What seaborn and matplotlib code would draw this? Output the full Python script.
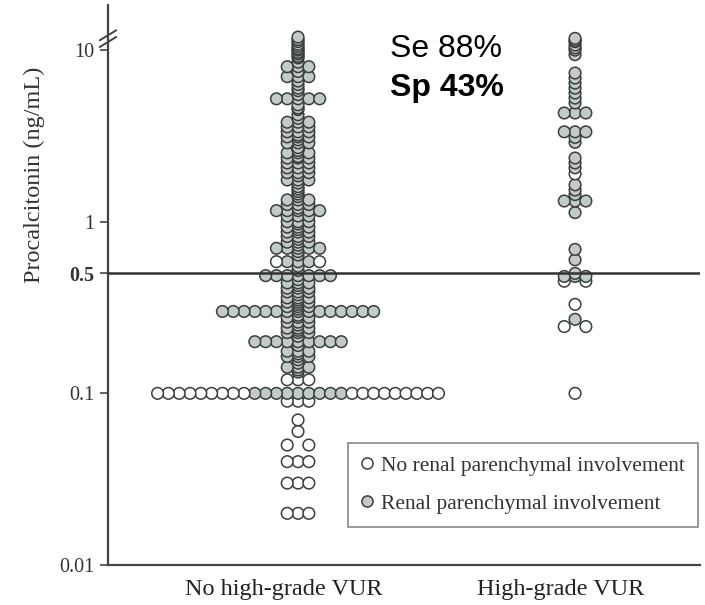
import numpy as np
import pandas as pd
import matplotlib.pyplot as plt
import matplotlib.transforms as mtransforms
import seaborn as sns
from matplotlib.lines import Line2D

sns.set_theme(style="ticks")
plt.rcParams['font.family'] = ['Liberation Serif', 'DejaVu Serif']

# procalcitonin values (ng/mL), with number of patients at each value
# gray = renal parenchymal involvement, white = none
noHighValues = [11.9, 11.5, 11.2, 10.8, 10.5, 10.2, 10.0, 9.7, 9.5, 9.2,
                9.0, 8.5, 8.0, 7.5, 7.0, 6.6, 6.3, 6.0, 5.8, 5.5,
                5.2, 4.8, 4.6, 4.5, 4.2, 4.0, 3.8, 3.57, 3.34, 3.2,
                3.12, 3.0, 2.88, 2.7, 2.6, 2.52, 2.4, 2.35, 2.2, 2.06,
                1.93, 1.85, 1.75, 1.68, 1.6, 1.55, 1.5, 1.45, 1.4, 1.34,
                1.26, 1.2, 1.16, 1.08, 1.0, 0.97, 0.93, 0.9, 0.87, 0.82,
                0.79, 0.76, 0.73, 0.70, 0.67, 0.64, 0.585, 0.55, 0.52, 0.485,
                0.46, 0.44, 0.425, 0.41, 0.39, 0.375, 0.36, 0.35, 0.34, 0.33,
                0.32, 0.31, 0.30, 0.285, 0.277, 0.26, 0.25, 0.24, 0.233, 0.226,
                0.215, 0.20, 0.19, 0.176, 0.17, 0.164, 0.157, 0.15, 0.142, 0.137,
                0.133, 0.12, 0.10, 0.09, 0.07, 0.06, 0.05, 0.04, 0.03, 0.02]
noHighGray = [1, 1, 1, 1, 1, 1, 1, 1, 1, 1,
              1, 1, 3, 1, 3, 1, 1, 1, 1, 1,
              5, 1, 1, 1, 1, 1, 3, 3, 3, 1,
              3, 1, 3, 1, 1, 3, 1, 3, 3, 3,
              3, 1, 3, 1, 1, 1, 1, 1, 1, 3,
              3, 1, 5, 3, 3, 1, 3, 1, 3, 3,
              1, 3, 1, 5, 1, 1, 3, 1, 1, 7,
              1, 3, 1, 3, 3, 1, 3, 1, 3, 1,
              3, 1, 15, 1, 3, 3, 1, 3, 1, 3,
              1, 9, 1, 3, 1, 3, 1, 1, 3, 1,
              1, 0, 9, 0, 0, 0, 0, 0, 0, 0]
noHighWhite = [0, 0, 0, 0, 0, 0, 0, 0, 0, 0,
               0, 0, 0, 0, 0, 0, 0, 0, 0, 0,
               0, 0, 0, 0, 0, 0, 0, 0, 0, 0,
               0, 0, 0, 0, 0, 0, 0, 0, 0, 0,
               0, 0, 0, 0, 0, 0, 0, 0, 0, 0,
               0, 0, 0, 0, 0, 0, 0, 0, 0, 0,
               0, 0, 0, 0, 0, 0, 2, 0, 0, 0,
               0, 0, 0, 0, 0, 0, 0, 0, 0, 0,
               0, 0, 0, 0, 0, 0, 0, 0, 0, 0,
               0, 0, 0, 0, 0, 0, 0, 0, 0, 0,
               0, 3, 18, 3, 1, 1, 2, 3, 3, 3]

highValues = [11.7, 11.4, 11.2, 10.7, 10.3, 10.0, 9.4, 7.35, 6.87, 6.42,
              6.0, 5.62, 5.25, 4.92, 4.3, 3.34, 3.1, 2.9, 2.35, 2.2,
              2.06, 1.9, 1.64, 1.53, 1.44, 1.32, 1.13, 0.69, 0.60, 0.5,
              0.48, 0.45, 0.33, 0.27, 0.245, 0.1]
highGray = [1, 1, 1, 1, 1, 1, 1, 1, 1, 1,
            1, 1, 1, 1, 3, 3, 1, 1, 1, 1,
            1, 0, 1, 1, 1, 3, 1, 1, 1, 1,
            3, 0, 0, 1, 0, 0]
highWhite = [0, 0, 0, 0, 0, 0, 0, 0, 0, 0,
             0, 0, 0, 0, 0, 0, 0, 0, 0, 0,
             0, 1, 0, 0, 0, 0, 0, 0, 0, 0,
             0, 2, 1, 0, 2, 1]

groups = ["No high-grade VUR", "High-grade VUR"]
statusLabels = ["No renal parenchymal involvement", "Renal parenchymal involvement"]
cutoff = 0.5
slotWidth = 0.039


def slots(n):
    # dot-plot layout: identical values spread side by side, inner slots first
    if n % 2:
        s = np.arange(n) - n // 2
    else:
        k = n // 2
        s = np.concatenate([np.arange(-k, 0), np.arange(1, k + 1)])
    return s[np.argsort(np.abs(s), kind="stable")]


rows = []
for gi, (vals, gray, white) in enumerate([(noHighValues, noHighGray, noHighWhite),
                                           (highValues, highGray, highWhite)]):
    for v, g, w in zip(vals, gray, white):
        for j, off in enumerate(slots(g + w)):
            rows.append({"x": gi + off * slotWidth, "pct": v,
                         "status": statusLabels[1] if j < g else statusLabels[0]})

dfPct = pd.DataFrame(rows).sort_values("pct", kind="stable")

fig = plt.figure(figsize=(7.05, 6.05), dpi=100)
ax = fig.add_axes([0.1532, 0.0661, 0.8397, 0.9256])

palette = {statusLabels[0]: "white", statusLabels[1]: "#c2cbca"}
sns.scatterplot(data=dfPct, x="x", y="pct", hue="status", palette=palette,
                s=70, edgecolor="#3a3e3e", linewidth=1.1, legend=False, ax=ax, zorder=2)

ax.set_yscale("log")
ax.set_ylim(0.01, 18.3)
ax.set_xlim(-0.686, 1.451)
ax.axhline(cutoff, color="#333333", lw=1.8, zorder=3)

ax.set_yticks([0.01, 0.1, 0.5, 1, 10])
ax.set_yticklabels(["0.01", "0.1", "0.5", "1", "10"], fontsize=14.5, color="#333333")
ax.get_yticklabels()[2].set_fontweight("bold")
ax.yaxis.set_minor_locator(plt.NullLocator())
ax.set_xticks([0, 1])
ax.set_xticklabels(groups, fontsize=17.5, color="#222222")
ax.tick_params(axis="x", length=0, pad=10)
ax.tick_params(axis="y", length=6, width=1.2, color="#444444", pad=4)
shift = mtransforms.ScaledTranslation(-0.14, 0, fig.dpi_scale_trans)
for lab in ax.get_xticklabels():
    lab.set_transform(lab.get_transform() + shift)
ax.set_xlabel("")
ax.set_ylabel("Procalcitonin (ng/mL)", fontsize=17.5, color="#333333")
ax.yaxis.set_label_coords(-0.106, 0.696)

sns.despine(ax=ax)
for side in ["left", "bottom"]:
    ax.spines[side].set_color("#444444")
    ax.spines[side].set_linewidth(1.6)

# axis break marks near 10
for y0 in [0.925, 0.937]:
    ax.add_line(Line2D([-0.014, 0.014], [y0, y0 + 0.018], transform=ax.transAxes,
                       color="#444444", lw=1.4, clip_on=False, zorder=5))

fig.text(0.553, 0.905, "Se 88%", fontsize=23, family=["Liberation Sans"],
         va="baseline", color="black")
fig.text(0.553, 0.841, "Sp 43%", fontsize=23, family=["Liberation Sans"],
         fontweight="bold", va="baseline", color="black")

handles = [Line2D([], [], ls="", marker="o", markersize=8, markerfacecolor=palette[lab],
                  markeredgecolor="#3a3e3e", markeredgewidth=1.1) for lab in statusLabels]
leg = ax.legend(handles, statusLabels, loc="lower right", bbox_to_anchor=(0.9966, 0.068),
                borderaxespad=0, fontsize=15.5, frameon=True, fancybox=False, framealpha=1,
                edgecolor="#888888", labelspacing=0.85, handletextpad=0.35,
                handlelength=0.6, borderpad=0.6)
leg.get_frame().set_linewidth(1.2)
for t in leg.get_texts():
    t.set_color("#333333")

fig.savefig("out.png", dpi=100)
